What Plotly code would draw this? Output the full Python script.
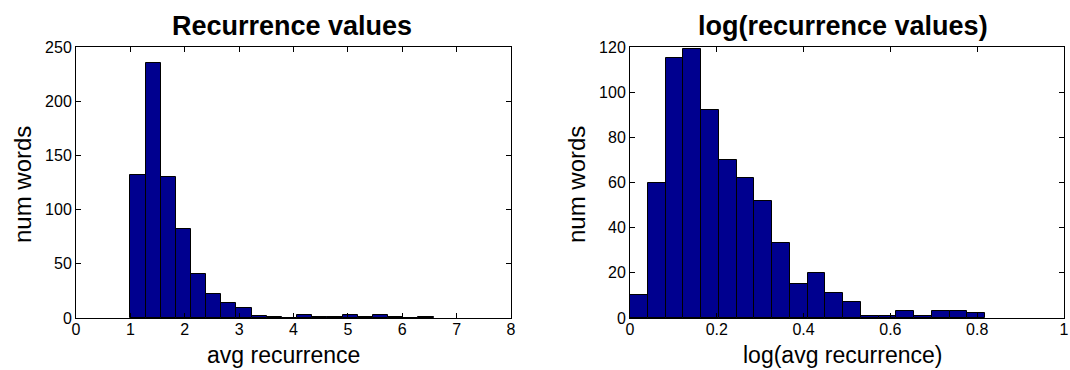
import numpy as np
import plotly.graph_objects as go

# ---- data ----
left_counts = [132, 235, 130, 82, 41, 22, 14, 9, 2, 1, 0, 3, 1, 1, 3, 1, 3, 1, 0, 1]
left_bin_range = [1.0, 6.576]
right_counts = [10, 60, 115, 119, 92, 70, 62, 52, 33, 15, 20, 11, 7, 1, 1, 3, 1, 3, 3, 2]
right_bin_range = [0.0, 0.818]

left_xticks = [0, 1, 2, 3, 4, 5, 6, 7, 8]
left_yticks = [0, 50, 100, 150, 200, 250]
right_xticks = [0, 0.2, 0.4, 0.6, 0.8, 1]
right_xticklabels = ["0", "0.2", "0.4", "0.6", "0.8", "1"]
right_yticks = [0, 20, 40, 60, 80, 100, 120]

left_title = "Recurrence values"
right_title = "log(recurrence values)"
left_xlabel = "avg recurrence"
right_xlabel = "log(avg recurrence)"
ylabel = "num words"


def bins(rng, n):
    edges = np.linspace(rng[0], rng[1], n + 1)
    return (edges[:-1] + edges[1:]) / 2, np.diff(edges)


W, H = 1070, 370
FONT = "Liberation Sans, Arial, Helvetica, sans-serif"
BAR = "#00008F"

lc, lw = bins(left_bin_range, len(left_counts))
rc, rw = bins(right_bin_range, len(right_counts))

fig = go.Figure()
fig.add_trace(go.Bar(x=lc, y=left_counts, width=lw, xaxis="x", yaxis="y",
                     marker=dict(color=BAR, line=dict(color="black", width=1)),
                     showlegend=False, hoverinfo="x+y"))
fig.add_trace(go.Bar(x=rc, y=right_counts, width=rw, xaxis="x2", yaxis="y2",
                     marker=dict(color=BAR, line=dict(color="black", width=1)),
                     showlegend=False, hoverinfo="x+y"))

ydom = [1 - 318 / H, 1 - 47 / H]
axis_common = dict(showline=True, linecolor="black", linewidth=1, mirror="ticks",
                   ticks="inside", ticklen=5, tickcolor="black", showgrid=False,
                   zeroline=False, automargin=False,
                   tickfont=dict(family=FONT, size=16, color="black"))
xtick_extra = dict(ticklabelstandoff=-3)

fig.update_layout(
    template="none",
    width=W, height=H,
    margin=dict(l=0, r=0, t=0, b=0, pad=0),
    paper_bgcolor="white", plot_bgcolor="white",
    bargap=0,
    xaxis=dict(domain=[76 / W, 511 / W], range=[0, 8], tickvals=left_xticks, anchor="y",
               **axis_common, **xtick_extra),
    yaxis=dict(domain=ydom, range=[0, 250], tickvals=left_yticks, anchor="x", **axis_common),
    xaxis2=dict(domain=[630 / W, 1064 / W], range=[0, 1], tickvals=right_xticks,
                ticktext=right_xticklabels, anchor="y2", **axis_common, **xtick_extra),
    yaxis2=dict(domain=ydom, range=[0, 120], tickvals=right_yticks, anchor="x2", **axis_common),
)

def ann(text, x, y, size, bold=False, angle=0):
    fig.add_annotation(text=f"<b>{text}</b>" if bold else text, xref="paper", yref="paper",
                       x=x / W, y=1 - y / H, xanchor="center", yanchor="middle",
                       showarrow=False, textangle=angle,
                       font=dict(family=FONT, size=size, color="black"))

ann(left_title, 292, 26, 27, bold=True)
ann(right_title, 843, 26, 27, bold=True)
ann(left_xlabel, 283, 355, 23)
ann(right_xlabel, 842, 355, 23)
ann(ylabel, 22, 185, 24, angle=-90)
ann(ylabel, 576, 185, 24, angle=-90)

fig.write_html("out.html", config={"displayModeBar": False},
               post_script="document.body.style.margin='0';document.body.style.overflow='hidden';")
